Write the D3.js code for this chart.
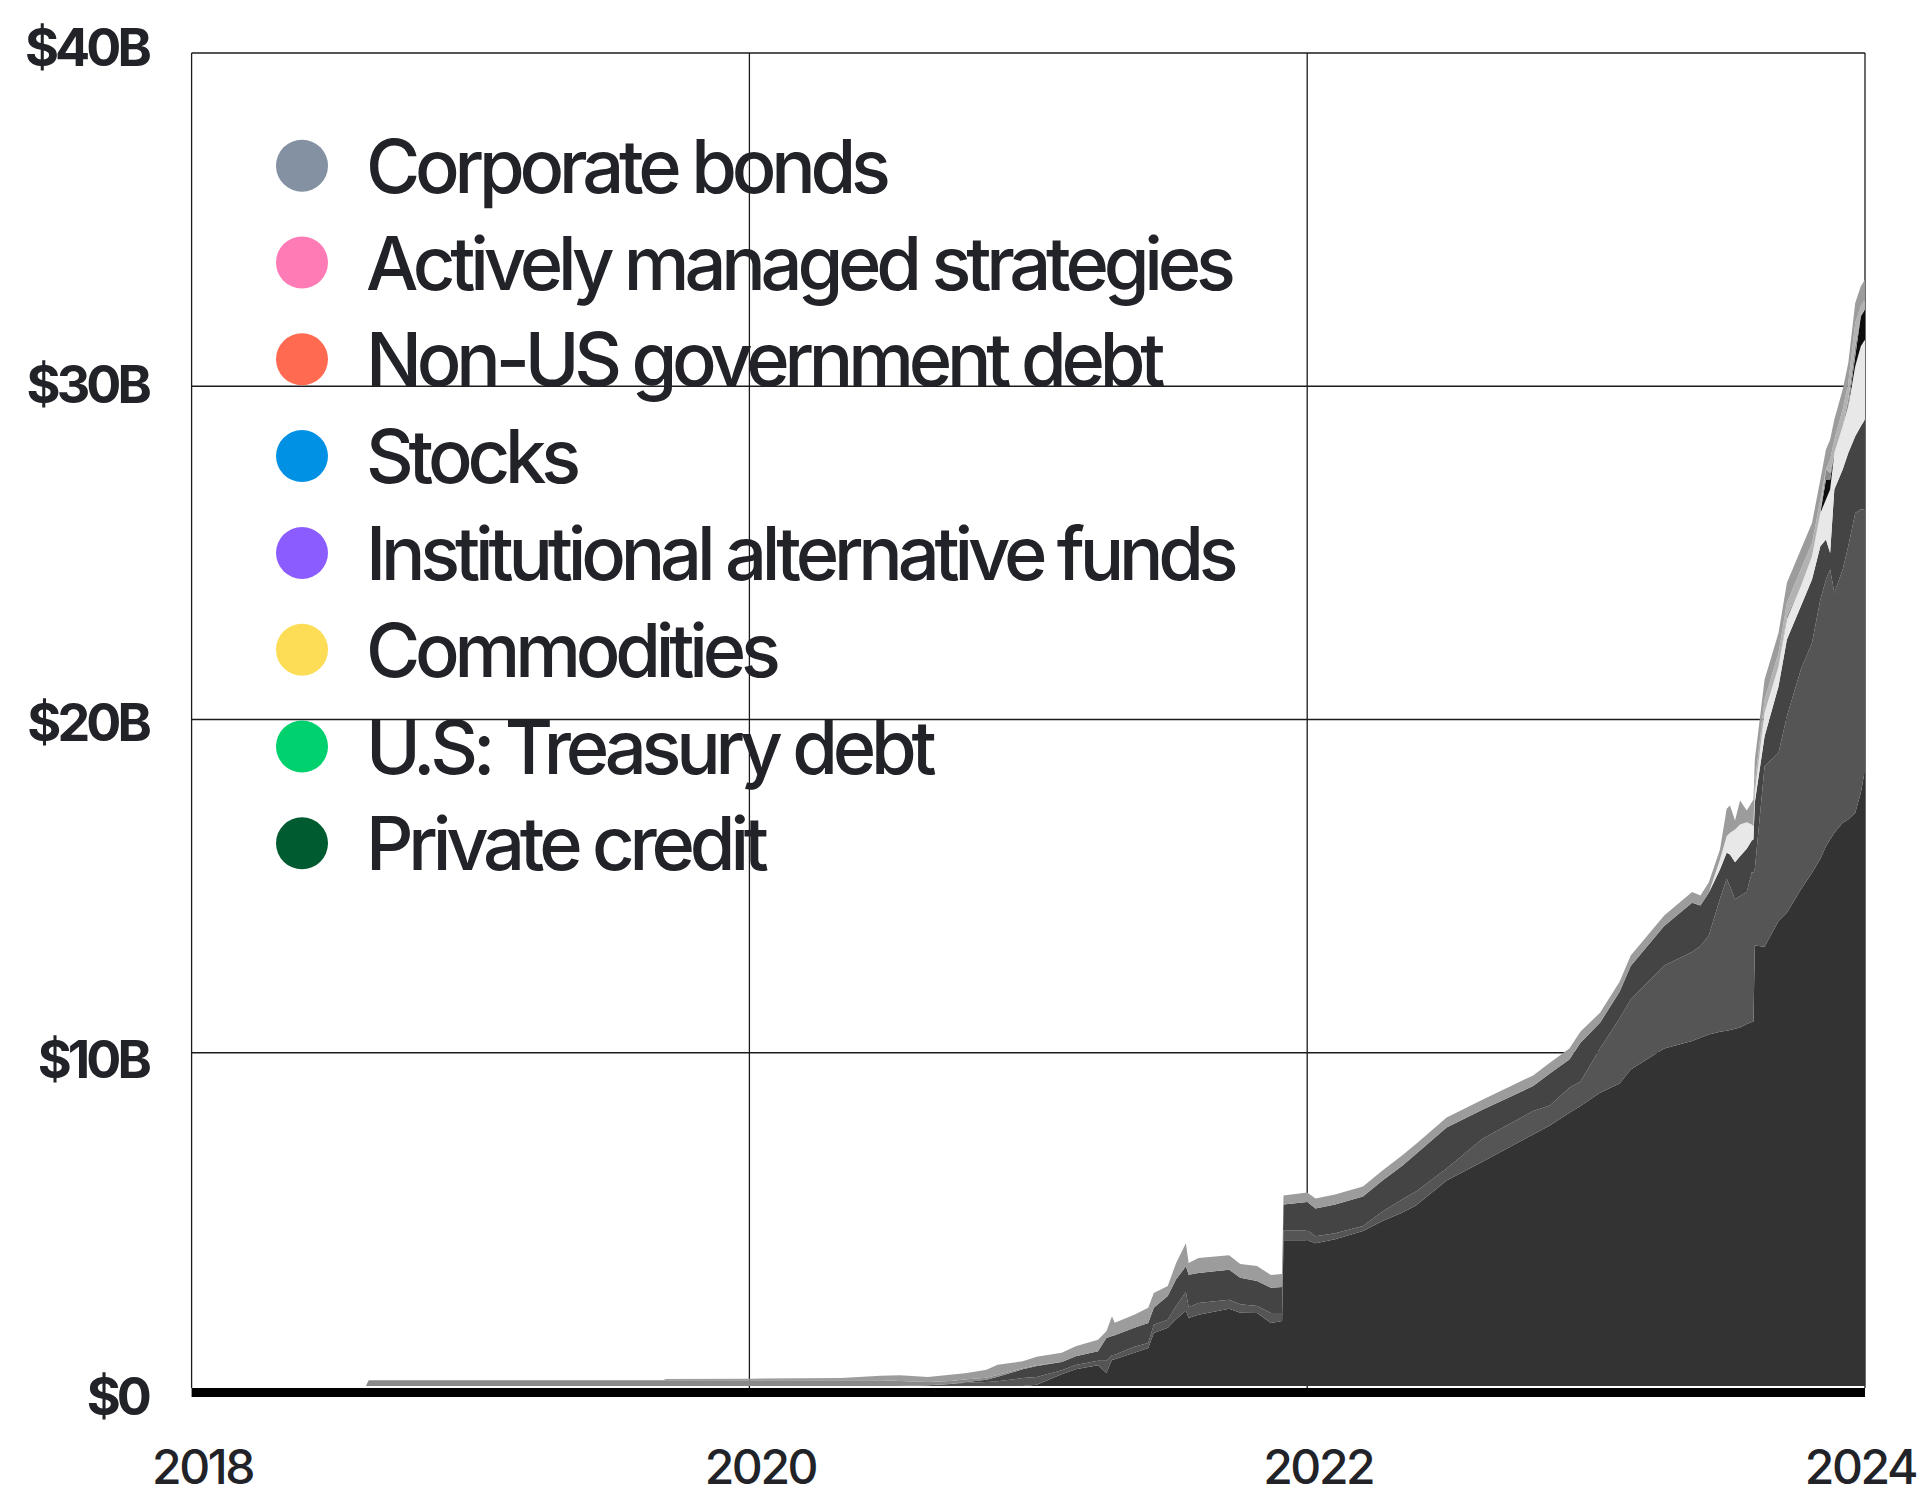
<!DOCTYPE html>
<html><head><meta charset="utf-8">
<script src="https://cdn.jsdelivr.net/npm/d3@7"></script>
<style>
html,body{margin:0;padding:0;background:#fff;}
svg{display:block;}
text{font-family:Inter,"Noto Sans",sans-serif;fill:#222328;}
</style></head><body>
<svg id="chart" width="1926" height="1496"></svg>
<script>
// ---- data (values in $B, time in decimal years) ----
const years = [2018.000,2018.625,2018.635,2019.690,2019.700,2020.000,2020.330,2020.470,2020.540,2020.640,
2020.720,2020.780,2020.850,2020.890,2020.980,2021.030,2021.120,2021.170,2021.250,2021.280,
2021.300,2021.310,2021.380,2021.430,2021.450,2021.500,2021.530,2021.565,2021.575,2021.610,
2021.720,2021.760,2021.820,2021.870,2021.910,2021.915,2022.000,2022.030,2022.100,2022.200,
2022.270,2022.340,2022.390,2022.500,2022.630,2022.810,2022.870,2022.940,2022.980,2023.050,
2023.120,2023.160,2023.280,2023.380,2023.410,2023.440,2023.480,2023.504,2023.516,2023.534,
2023.552,2023.576,2023.594,2023.600,2023.605,2023.640,2023.690,2023.720,2023.770,2023.810,
2023.840,2023.860,2023.875,2023.890,2023.920,2023.940,2023.965,2023.985,2024.000];

const privateCredit = [0,0,0,0,0,0,0,0,0,0,
0,0,0,0,0,0.04,0.35,0.50,0.62,0.39,
0.79,0.80,1.00,1.14,1.59,1.75,2.00,2.26,2.04,2.14,
2.32,2.20,2.19,1.89,1.95,4.37,4.37,4.28,4.40,4.65,
4.95,5.20,5.42,6.17,6.74,7.55,7.82,8.20,8.40,8.80,
9.08,9.50,10.13,10.35,10.45,10.55,10.63,10.66,10.68,10.72,
10.76,10.86,10.92,10.93,13.22,13.18,13.95,14.20,14.90,15.40,
15.82,16.20,16.40,16.60,16.90,17.00,17.20,17.80,18.50];

const treasuryDebt = [0,0,0,0,0,0,0,0,0,0.02,
0.06,0.10,0.12,0.14,0.24,0.23,0.12,0.13,0.14,0.37,
0.13,0.14,0.18,0.15,0.25,0.24,0.40,0.56,0.32,0.35,
0.27,0.25,0.21,0.30,0.24,0.30,0.30,0.21,0.18,0.15,
0.29,0.40,0.42,0.36,0.69,0.70,0.60,0.75,0.74,1.33,
1.95,2.10,2.49,2.67,2.75,2.97,3.99,4.56,4.32,3.88,
3.94,3.96,4.50,4.47,2.30,5.42,5.05,5.90,6.60,6.90,
7.78,8.00,8.10,7.20,7.60,8.20,9.00,8.50,7.80];

const commodities = [0,0,0,0,0,0,0,0,0,0,
0,0.02,0.07,0.14,0.26,0.33,0.25,0.26,0.28,0.68,
0.58,0.58,0.57,0.60,0.51,0.71,0.80,0.77,0.98,0.90,
0.90,0.80,0.75,0.76,0.78,0.78,0.85,0.84,0.87,0.89,
0.93,1.00,1.12,1.23,0.87,0.75,0.96,0.85,1.16,0.77,
0.80,1.00,1.18,1.48,1.22,1.28,0.88,0.78,0.95,1.12,
1.20,1.30,0.95,1.00,2.00,0.90,2.00,2.30,1.90,1.90,
1.60,1.20,0.50,3.10,3.00,2.80,2.30,2.50,2.70];

const institutionalFunds = [0,0,0,0,0,0,0,0,0,0,
0,0,0,0,0,0,0,0,0,0,
0,0,0,0,0,0,0,0,0,0,
0,0,0,0,0,0,0,0,0,0,
0,0,0,0,0,0,0,0,0,0,
0,0,0,0,0,0,0.30,0.50,0.65,0.98,
0.95,0.80,0.48,0.40,0.28,0.70,0.60,0.60,0.60,0.70,
1.00,1.20,1.90,1.10,1.30,1.40,2.10,2.40,2.40];

const stocks = [0,0,0,0,0,0,0,0,0,0,
0,0,0,0,0,0,0,0,0,0,
0,0,0,0,0,0,0,0,0,0,
0,0,0,0,0,0,0,0,0,0,
0,0,0,0,0,0,0,0,0,0,
0,0,0,0,0,0,0,0,0,0,
0,0,0,0,0,0,0,0,0,0,
0,0.60,0.30,0,0,0,0.30,0.90,0.90];

const nonUsGovDebt = [0,0,0.17,0.17,0.17,0.17,0.17,0.17,0.15,0.10,
0.09,0.08,0.06,0.05,0.03,0.02,0,0,0,0,
0,0,0,0,0,0,0,0,0,0,
0,0,0,0,0,0,0,0,0,0,
0,0,0,0,0,0,0,0,0,0,
0,0,0,0,0,0,0,0,0,0,
0,0,0,0,0,0,0,0.10,0,0,
0,0.30,0.20,0,0,0.20,0.30,0,0];

const activeStrategies = [0,0,0,0,0,0,0,0,0,0,
0,0,0,0,0,0,0,0,0,0,
0,0,0,0,0,0,0,0,0,0,
0,0,0,0,0,0,0,0,0,0,
0,0,0,0,0,0,0,0,0,0,
0,0,0,0,0,0,0,0,0,0,
0,0,0,0,0.30,0.40,0.40,0.40,0.50,0.40,
0.40,0,0.40,0.40,0.50,0.50,0.70,0.30,0.30];

const corporateBonds = [0,0,0,0,0.04,0.05,0.07,0.14,0.17,0.15,
0.19,0.19,0.24,0.31,0.21,0.26,0.28,0.30,0.35,0.20,
0.59,0.38,0.39,0.46,0.44,0.30,0.49,0.69,0.35,0.45,
0.43,0.41,0.45,0.38,0.39,0.27,0.29,0.30,0.30,0.30,
0.30,0.32,0.30,0.30,0.30,0.32,0.32,0.33,0.34,0.30,
0.30,0.32,0.32,0.32,0.30,0.32,0.30,0.82,0.82,0.27,
0.72,0.35,0.67,0.80,0.70,0.60,0.60,0.60,0.60,0.60,
0.60,0.60,0.60,0.60,0.60,0.60,0.60,0.60,0.60];

// legend order (top to bottom) as in the chart
const legendLabels = ["Corporate bonds","Actively managed strategies","Non-US government debt","Stocks",
  "Institutional alternative funds","Commodities","U.S: Treasury debt","Private credit"];
const legendColors = ["#8391a2","#ff7bb6","#ff6a51","#0091e4","#8b5cff","#fcdd55","#00d16f","#005b31"];

const yTicks = [0,10,20,30,40];
const yTickLabels = ["$0","$10B","$20B","$30B","$40B"];
const xTicks = [2018,2020,2022,2024];
const xTickLabels = ["2018","2020","2022","2024"];

// ---- build stack (bottom to top) ----
const stackKeys = ["Private credit","U.S: Treasury debt","Commodities","Institutional alternative funds",
  "Stocks","Non-US government debt","Actively managed strategies","Corporate bonds"];
const stackSeries = [privateCredit,treasuryDebt,commodities,institutionalFunds,stocks,nonUsGovDebt,activeStrategies,corporateBonds];
const areaFills = {"Private credit":"#333333","U.S: Treasury debt":"#555555","Commodities":"#444444",
  "Institutional alternative funds":"#e8e8e8","Stocks":"#0d0d0d","Non-US government debt":"#8a8a8a",
  "Actively managed strategies":"#b2b2b2","Corporate bonds":"#9c9c9c"};

const rows = years.map((yr,i)=>{
  const r = {year: yr};
  stackKeys.forEach((k,j)=>{ r[k] = stackSeries[j][i]; });
  return r;
});
const stacked = d3.stack().keys(stackKeys)(rows);

// ---- layout ----
const svg = d3.select("#chart");
const L = 191.6, R = 1865, T = 53, B0 = 1386;
const x = d3.scaleLinear().domain([2018,2024]).range([L,R]);
const y = d3.scaleLinear().domain([0,40]).range([B0,T]);
const yLabel = d3.scaleLinear().domain([0,40]).range([1415,66]);

// grid
const grid = svg.append("g").attr("stroke","#1c1c1c").attr("stroke-width",1.3);
grid.selectAll("line.h").data(yTicks.filter(d=>d>0)).join("line")
  .attr("x1",L).attr("x2",R).attr("y1",d=>y(d)).attr("y2",d=>y(d));
grid.selectAll("line.v").data(xTicks).join("line")
  .attr("x1",d=>x(d)).attr("x2",d=>x(d)).attr("y1",T).attr("y2",B0+2);

// areas
const area = d3.area().x(d=>x(d.data.year)).y0(d=>y(d[0])).y1(d=>y(d[1])).curve(d3.curveLinear);
svg.append("g").selectAll("path").data(stacked).join("path")
  .attr("fill",d=>areaFills[d.key]).attr("d",area);

// thick baseline
svg.append("line").attr("x1",L).attr("x2",R).attr("y1",y(0)+6.5).attr("y2",y(0)+6.5)
  .attr("stroke","#000").attr("stroke-width",9);

// y labels
svg.append("g").selectAll("text").data(yTicks).join("text")
  .attr("x",148).attr("y",d=>yLabel(d)).attr("text-anchor","end")
  .style("font-size","52px").style("font-weight",700).style("letter-spacing","-0.075em")
  .text((d,i)=>yTickLabels[i]);

// x labels
const xl = svg.append("g").selectAll("text").data(xTicks).join("text")
  .attr("x",d=>x(d)+11).attr("y",1484).attr("text-anchor","middle")
  .style("font-size","48px").style("font-weight",500).style("letter-spacing","-0.05em")
  .text((d,i)=>xTickLabels[i]);
xl.each(function(){
  const bb = this.getBBox();
  if (bb.x + bb.width > 1916) d3.select(this).attr("x", +d3.select(this).attr("x") - (bb.x + bb.width - 1916));
});

// legend
const lg = svg.append("g");
legendLabels.forEach((lab,i)=>{
  const cy = 165.7 + i*96.8;
  lg.append("circle").attr("cx",302).attr("cy",cy).attr("r",26).attr("fill",legendColors[i]);
  lg.append("text").attr("x",366).attr("y",cy+27)
    .style("font-size","74px").style("font-weight",500).style("letter-spacing","-0.07em")
    .text(lab);
});
</script>
</body></html>
